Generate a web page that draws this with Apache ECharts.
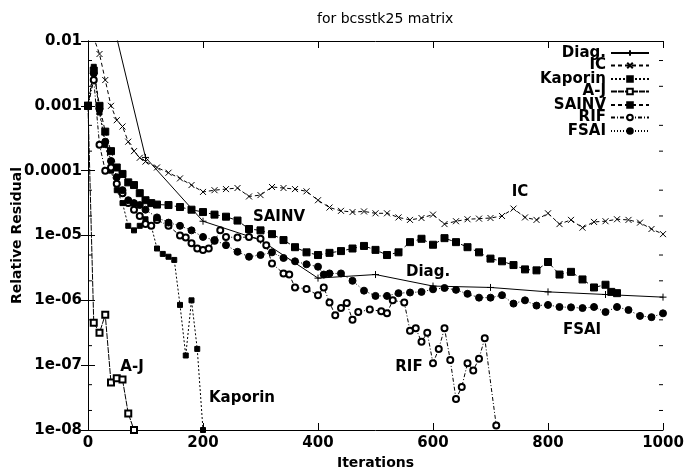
<!DOCTYPE html>
<html><head><meta charset="utf-8">
<script src="https://cdn.jsdelivr.net/npm/echarts@6/dist/echarts.min.js"></script>
<style>html,body{margin:0;padding:0;background:#fff}#c{width:687px;height:472px}</style>
</head><body><div id="c"></div>
<script>
// ---- data (iteration, relative residual) ----
const xTickValues = [0, 200, 400, 600, 800, 1000];
const yTickLabels = ['0.01', '0.001', '0.0001', '1e-05', '1e-06', '1e-07', '1e-08'];
const yMinorTicks = [2e-8,5e-8,2e-7,5e-7,2e-6,5e-6,2e-5,5e-5,2e-4,5e-4,2e-3,5e-3];

const diag = [[0,0.79],[100,1.6e-4],[200,1.66e-5],[300,8.5e-6],[400,2.2e-6],[500,2.5e-6],[600,1.66e-6],[700,1.58e-6],[800,1.35e-6],[900,1.23e-6],[1000,1.12e-6]];

const ic = [[0,3.16e-2],[10,1.12e-2],[20,6.3e-3],[30,2.5e-3],[40,1.0e-3],[50,6.0e-4],[60,4.8e-4],[70,2.8e-4],[80,2.0e-4],[90,1.58e-4],[100,1.38e-4],[120,1.12e-4],[140,9.3e-5],[160,7.6e-5],[180,6.0e-5],[200,4.7e-5],[220,5.0e-5],[240,5.2e-5],[260,5.4e-5],[280,4.0e-5],[300,4.2e-5],[320,5.6e-5],[340,5.4e-5],[360,5.2e-5],[380,4.8e-5],[400,3.5e-5],[420,2.7e-5],[440,2.4e-5],[460,2.3e-5],[480,2.35e-5],[500,2.2e-5],[520,2.2e-5],[540,1.9e-5],[560,1.74e-5],[580,1.86e-5],[600,2.1e-5],[620,1.5e-5],[640,1.66e-5],[660,1.78e-5],[680,1.82e-5],[700,1.86e-5],[720,2.0e-5],[740,2.6e-5],[760,1.9e-5],[780,1.74e-5],[800,2.2e-5],[820,1.5e-5],[840,1.74e-5],[860,1.32e-5],[880,1.62e-5],[900,1.66e-5],[920,1.78e-5],[940,1.74e-5],[960,1.58e-5],[980,1.26e-5],[1000,1.05e-5]];

const kaporin = [[0,1.0e-3],[10,4.0e-3],[20,7.9e-4],[30,2.5e-4],[40,1.0e-4],[50,5.0e-5],[60,3.16e-5],[70,1.41e-5],[80,1.2e-5],[90,1.41e-5],[100,1.78e-5],[110,1.41e-5],[120,6.3e-6],[130,5.2e-6],[140,4.7e-6],[150,4.2e-6],[160,8.5e-7],[170,1.41e-7],[180,1.0e-6],[190,1.78e-7],[200,1.0e-8]];

const aj = [[0,1.0e-3],[10,4.5e-7],[20,3.16e-7],[30,6.0e-7],[40,5.4e-8],[50,6.3e-8],[60,6.0e-8],[70,1.8e-8],[80,1.0e-8]];

const sainv = [[0,1.0e-3],[10,3.5e-3],[20,1.0e-3],[30,4.0e-4],[40,2.0e-4],[50,1.12e-4],[60,8.9e-5],[70,6.6e-5],[80,6.0e-5],[90,4.5e-5],[100,3.5e-5],[110,3.16e-5],[120,3.0e-5],[140,2.95e-5],[160,2.75e-5],[180,2.5e-5],[200,2.3e-5],[220,2.1e-5],[240,1.95e-5],[260,1.7e-5],[280,1.26e-5],[300,1.2e-5],[320,1.05e-5],[340,8.5e-6],[360,6.6e-6],[380,5.5e-6],[400,5.0e-6],[420,5.4e-6],[440,5.75e-6],[460,6.3e-6],[480,6.9e-6],[500,6.0e-6],[520,5.0e-6],[540,5.5e-6],[560,7.9e-6],[580,8.9e-6],[600,7.2e-6],[620,9.1e-6],[640,7.9e-6],[660,6.6e-6],[680,5.5e-6],[700,4.4e-6],[720,4.0e-6],[740,3.5e-6],[760,3.0e-6],[780,2.9e-6],[800,3.9e-6],[820,2.5e-6],[840,2.75e-6],[860,2.1e-6],[880,1.58e-6],[900,1.74e-6],[910,1.35e-6],[920,1.29e-6]];

const rif = [[0,1.0e-3],[10,2.5e-3],[20,2.5e-4],[30,1.0e-4],[40,1.12e-4],[50,6.3e-5],[60,4.5e-5],[70,3.16e-5],[80,2.5e-5],[90,2.0e-5],[100,1.5e-5],[110,1.41e-5],[120,1.74e-5],[140,1.41e-5],[160,1.0e-5],[170,9.3e-6],[180,7.6e-6],[190,6.3e-6],[200,6.0e-6],[210,6.3e-6],[220,8.3e-6],[230,1.2e-5],[240,9.5e-6],[260,9.3e-6],[280,9.5e-6],[300,8.9e-6],[310,7.1e-6],[320,3.7e-6],[340,2.6e-6],[350,2.5e-6],[360,1.58e-6],[380,1.5e-6],[400,1.2e-6],[410,1.58e-6],[420,9.3e-7],[430,5.9e-7],[440,7.6e-7],[450,9.1e-7],[460,5.0e-7],[470,6.6e-7],[490,7.2e-7],[510,6.8e-7],[520,6.3e-7],[530,1.0e-6],[550,9.3e-7],[560,3.4e-7],[570,3.7e-7],[580,2.3e-7],[590,3.16e-7],[600,1.07e-7],[610,1.78e-7],[620,3.7e-7],[630,1.2e-7],[640,3.0e-8],[650,4.6e-8],[660,1.07e-7],[670,8.3e-8],[680,1.26e-7],[690,2.6e-7],[710,1.17e-8]];

const fsai = [[0,1.0e-3],[10,3.16e-3],[20,8.9e-4],[30,2.8e-4],[40,1.41e-4],[50,7.9e-5],[60,5.0e-5],[70,3.5e-5],[80,3.16e-5],[90,2.95e-5],[100,2.5e-5],[120,1.9e-5],[140,1.58e-5],[160,1.41e-5],[180,1.2e-5],[200,9.5e-6],[220,8.5e-6],[240,7.1e-6],[260,5.6e-6],[280,4.7e-6],[300,5.0e-6],[320,5.5e-6],[340,4.5e-6],[360,4.0e-6],[380,3.6e-6],[400,3.3e-6],[410,2.5e-6],[420,2.6e-6],[440,2.6e-6],[460,2.0e-6],[480,1.41e-6],[500,1.17e-6],[520,1.17e-6],[540,1.29e-6],[560,1.32e-6],[580,1.35e-6],[600,1.48e-6],[620,1.55e-6],[640,1.45e-6],[660,1.26e-6],[680,1.1e-6],[700,1.1e-6],[720,1.2e-6],[740,8.9e-7],[760,1.0e-6],[780,8.3e-7],[800,8.5e-7],[820,7.9e-7],[840,7.8e-7],[860,7.6e-7],[880,7.9e-7],[900,6.6e-7],[920,7.9e-7],[940,7.1e-7],[960,5.75e-7],[980,5.5e-7],[1000,6.3e-7]];

const seriesNames = ['Diag.', 'IC', 'Kaporin', 'A-J', 'SAINV', 'RIF', 'FSAI'];
const inlineLabels = [['IC',520,192],['SAINV',279,217],['Diag.',428,272],['FSAI',582,330],['RIF',409,367],['A-J',132,367],['Kaporin',242,398]];

// ---- styling ----
const FONT = 'DejaVu Sans';
const PLUS = 'path://M0,5L10,5M5,0L5,10';
const CROSS = 'path://M0,0L10,10M10,0L0,10';

function mk(name, data, symbol, size, dash) {
  return {
    name, type: 'line', data, symbol, symbolSize: size, showAllSymbol: true,
    animation: false, clip: true,
    lineStyle: { color: '#000', width: 1, type: dash },
    itemStyle: { color: '#000', borderColor: '#000', borderWidth: 1 },
    emphasis: { disabled: true }
  };
}

const series = [
  mk('Diag.', diag, PLUS, 7, 'solid'),
  mk('IC', ic, CROSS, 6, [4, 3]),
  mk('Kaporin', kaporin, 'rect', 5, [2, 2]),
  mk('A-J', aj, 'emptyRect', 6, [6, 1]),
  mk('SAINV', sainv, 'rect', 7, [4, 3]),
  mk('RIF', rif, 'emptyCircle', 6, [4, 2, 1, 2]),
  mk('FSAI', fsai, 'circle', 7, [1, 2]),
  {
    type: 'custom', silent: true, clip: false, animation: false,
    data: yMinorTicks.map(v => [0, v]),
    renderItem: (params, api) => {
      const v = api.value(1);
      const l = api.coord([0, v]);
      const r = api.coord([1000, v]);
      return { type: 'group', children: [
        { type: 'line', shape: { x1: l[0], y1: l[1], x2: l[0] + 4, y2: l[1] }, style: { stroke: '#000', lineWidth: 1 } },
        { type: 'line', shape: { x1: r[0] - 4, y1: r[1], x2: r[0], y2: r[1] }, style: { stroke: '#000', lineWidth: 1 } }
      ]};
    }
  }
];

const legendCenters = [52, 64.5, 78, 90.5, 104, 116.5, 130];
const legends = seriesNames.map((n, i) => ({
  data: [n], right: 37, top: legendCenters[i] - 6.5, orient: 'vertical', align: 'right',
  itemWidth: 38, itemHeight: 7, itemGap: 0, padding: 0, selectedMode: false,
  textStyle: { fontFamily: FONT, fontWeight: 'bold', fontSize: 15, color: '#000', lineHeight: 13 }
}));

const axisLineStyle = { show: true, lineStyle: { color: '#000', width: 1 } };
const tickStyle = { show: true, inside: true, length: 7, lineStyle: { color: '#000', width: 1 } };

const option = {
  backgroundColor: '#fff',
  animation: false,
  title: { text: 'for bcsstk25 matrix', left: 312, top: 7,
    textStyle: { fontFamily: FONT, fontWeight: 'normal', fontSize: 14, color: '#000' } },
  legend: legends,
  grid: { left: 88, right: 24, top: 41, bottom: 42, containLabel: false, outerBoundsMode: 'none' },
  xAxis: [
    { type: 'value', min: 0, max: 1000, interval: 200, position: 'bottom',
      name: 'Iterations', nameLocation: 'middle', nameGap: 26, nameMoveOverlap: false,
      nameTextStyle: { fontFamily: FONT, fontWeight: 'bold', fontSize: 14, color: '#000' },
      axisLine: axisLineStyle, axisTick: tickStyle, splitLine: { show: false },
      axisLabel: { fontFamily: FONT, fontWeight: 'bold', fontSize: 15, color: '#000', margin: 6,
        formatter: v => xTickValues.includes(v) ? String(v) : '' } },
    { type: 'value', min: 0, max: 1000, interval: 200, position: 'top',
      axisLine: axisLineStyle, axisTick: tickStyle, splitLine: { show: false }, axisLabel: { show: false } }
  ],
  yAxis: [
    { type: 'log', logBase: 10, min: 1e-8, max: 1e-2, splitNumber: 6, position: 'left',
      name: 'Relative Residual', nameLocation: 'middle', nameGap: 64, nameRotate: 90, nameMoveOverlap: false,
      nameTextStyle: { fontFamily: FONT, fontWeight: 'bold', fontSize: 14, color: '#000' },
      axisLine: axisLineStyle, axisTick: tickStyle, splitLine: { show: false },
      axisLabel: { fontFamily: FONT, fontWeight: 'bold', fontSize: 15, color: '#000', margin: 6,
        formatter: v => { const k = Math.round(-Math.log10(v)) - 2; return yTickLabels[k] ?? ''; } } },
    { type: 'log', logBase: 10, min: 1e-8, max: 1e-2, splitNumber: 6, position: 'right',
      axisLine: axisLineStyle, axisTick: tickStyle, splitLine: { show: false }, axisLabel: { show: false } }
  ],
  graphic: inlineLabels.map(([t, x, y]) => ({
    type: 'text', x, y, silent: true,
    style: { text: t, fill: '#000', font: 'bold 15px "DejaVu Sans"', textAlign: 'center', textVerticalAlign: 'middle' }
  })),
  series
};

const chart = echarts.init(document.getElementById('c'), null, { renderer: 'canvas' });
chart.setOption(option);
</script>
</body></html>
